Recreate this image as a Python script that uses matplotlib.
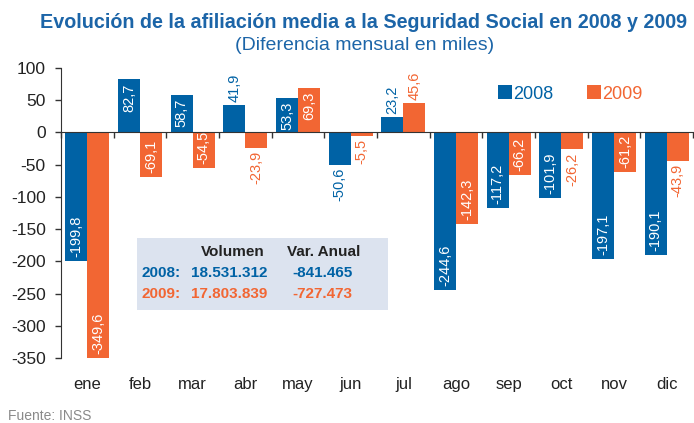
import numpy as np
import matplotlib
matplotlib.use("Agg")
import matplotlib.pyplot as plt
from matplotlib.patches import Rectangle, Patch

# datos (diferencia mensual en miles)
meses = ['ene', 'feb', 'mar', 'abr', 'may', 'jun', 'jul', 'ago', 'sep', 'oct', 'nov', 'dic']
v2008 = [-199.8, 82.7, 58.7, 41.9, 53.3, -50.6, 23.2, -244.6, -117.2, -101.9, -197.1, -190.1]
v2009 = [-349.6, -69.1, -54.5, -23.9, 69.3, -5.5, 45.6, -142.3, -66.2, -26.2, -61.2, -43.9]
series = ['2008', '2009']
tabla_cab = ['Volumen', 'Var. Anual']
tabla_vol = ['18.531.312', '17.803.839']
tabla_var = ['-841.465', '-727.473']
yticks = [100, 50, 0, -50, -100, -150, -200, -250, -300, -350]

AZUL = '#0062a5'
NARANJA = '#f26633'
TITULO = '#1c65a8'
FONDO_TABLA = '#dce3ef'

plt.rcParams['font.family'] = ['Liberation Sans', 'DejaVu Sans']

W, H = 694, 423
fig = plt.figure(figsize=(W / 100, H / 100), dpi=100)

def fx(px):
    return px / W

def fy(py):
    return 1 - py / H

ax = fig.add_axes([fx(61), fy(358), fx(693) - fx(61), fy(68) - fy(358)])

x = np.arange(len(meses))
ancho = 0.415
cols = [AZUL, NARANJA]
for k, vals in enumerate([v2008, v2009]):
    pos = x - ancho / 2 + k * ancho
    ax.bar(pos, vals, width=ancho, color=cols[k], linewidth=0, zorder=2)
    for xi, v in zip(pos, vals):
        txt = ('%.1f' % v).replace('.', ',')
        dentro = abs(v) >= 52
        if v >= 0:
            off, va = (-4, 'top') if dentro else (3, 'bottom')
        else:
            off, va = (4, 'bottom') if dentro else (-3, 'top')
        ax.annotate(txt, (xi, v), xytext=(0, off), textcoords='offset pixels',
                    rotation=90, ha='center', va=va, fontsize=10.5,
                    color='white' if dentro else cols[k], zorder=3)

ax.set_xlim(-0.5, len(meses) - 0.5)
ax.set_ylim(-350, 100)
ax.set_yticks(yticks)
ax.set_yticklabels([str(t) for t in yticks])
ax.tick_params(axis='y', direction='out', length=4, width=1, labelsize=12.5,
               colors='#333333', labelcolor='#222222', pad=7)

for s in ['top', 'right']:
    ax.spines[s].set_visible(False)
ax.spines['left'].set_color('#333333')
ax.spines['bottom'].set_position(('data', 0))
ax.spines['bottom'].set_color('#333333')
ax.spines['bottom'].set_zorder(4)
ax.set_xticks(np.arange(len(meses) + 1) - 0.5)
ax.set_xticklabels([])
ax.tick_params(axis='x', direction='out', length=4, width=1, colors='#333333')

for xi, m in zip(x, meses):
    ax.text(xi, -0.093, m, transform=ax.get_xaxis_transform(), ha='center',
            va='center', fontsize=12, color='#222222')

# leyenda
hs = [Patch(facecolor=c, edgecolor='none') for c in cols]
leg = fig.legend(hs, series, loc='center left', bbox_to_anchor=(fx(489), fy(94)),
                 ncol=2, frameon=False, fontsize=13, handlelength=0.8,
                 handleheight=0.8, handletextpad=0.05, columnspacing=1.85,
                 borderpad=0)
for t, c in zip(leg.get_texts(), cols):
    t.set_color(c)

# tabla
fig.patches.append(Rectangle((fx(137), fy(310)), fx(388) - fx(137), fy(238) - fy(310),
                             transform=fig.transFigure, facecolor=FONDO_TABLA,
                             edgecolor='none', zorder=1))
kw = dict(fontsize=11, fontweight='bold', va='center')
fig.text(fx(233), fy(252), tabla_cab[0], ha='center', color='#222222', **kw)
fig.text(fx(324), fy(252), tabla_cab[1], ha='center', color='#222222', **kw)
for i, (s, vol, var) in enumerate(zip(series, tabla_vol, tabla_var)):
    yy = fy(273 + 21 * i)
    fig.text(fx(142), yy, s + ':', ha='left', color=cols[i], **kw)
    fig.text(fx(191), yy, vol, ha='left', color=cols[i], **kw)
    fig.text(fx(292), yy, var, ha='left', color=cols[i], **kw)

fig.text(fx(364), fy(22), 'Evolución de la afiliación media a la Seguridad Social en 2008 y 2009',
         ha='center', va='center', fontsize=14.2, fontweight='bold', color=TITULO)
fig.text(fx(365), fy(46), '(Diferencia mensual en miles)', ha='center', va='center',
         fontsize=14, color=TITULO)
fig.text(fx(8), fy(409), 'Fuente: INSS', ha='left', va='top', fontsize=10, color='#8a8a8a')

fig.savefig('out.png', dpi=100)
